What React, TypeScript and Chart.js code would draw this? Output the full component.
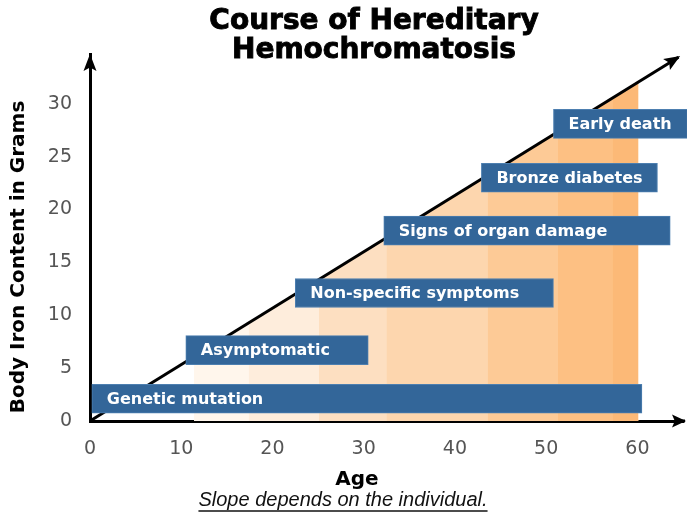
import { useEffect, useRef } from 'react';
import { Chart, registerables } from 'chart.js';

Chart.register(...registerables);

// ---- data ----
const titleLines = ['Course of Hereditary', 'Hemochromatosis'];
const xTitle = 'Age';
const yTitle = 'Body Iron Content in Grams';
const note = 'Slope depends on the individual.';

const xTicks = [0, 10, 20, 30, 40, 50, 60];
const yTicks = [0, 5, 10, 15, 20, 25, 30];

// diagonal course line (age, grams)
const lineX = [0, 64.5];
const lineY = [0, 34.4];

// shaded bands under the line: start age, height of line there
const bandStarts = [11.4, 17.4, 25.1, 32.5, 43.6, 51.3, 57.3];
const bandStartTops = [6.1, 9.3, 13.4, 17.3, 23.3, 27.4, 30.6];
const bandEnd = 60.1;
const bandEndTop = 32.1;
const bandColors = ['#FFF6EC', '#FEEDDC', '#FDDFC1', '#FDD6AE', '#FDCA96', '#FDC083', '#FCB977'];

// stage boxes
const stageLabels = [
  'Genetic mutation',
  'Asymptomatic',
  'Non-specific symptoms',
  'Signs of organ damage',
  'Bronze diabetes',
  'Early death',
];
const stageStart = [0.2, 10.5, 22.5, 32.2, 42.9, 50.8];
const stageEnd = [60.5, 30.5, 50.8, 63.6, 62.2, 65.5];
const stageLevel = [2.1, 6.7, 12.1, 18.0, 23.0, 28.1];

const FONT = '"DejaVu Sans", Verdana, sans-serif';

function arrowHead(ctx: CanvasRenderingContext2D, tx: number, ty: number, angle: number, len: number, half: number) {
  ctx.save();
  ctx.translate(tx, ty);
  ctx.rotate(angle);
  ctx.beginPath();
  ctx.moveTo(0, 0);
  ctx.lineTo(-len, -half);
  ctx.lineTo(-len * 0.8, 0);
  ctx.lineTo(-len, half);
  ctx.closePath();
  ctx.fillStyle = '#000';
  ctx.fill();
  ctx.restore();
}

const decor = {
  id: 'decor',
  afterDatasetsDraw(chart: any) {
    const ctx: CanvasRenderingContext2D = chart.ctx;
    const barIdx = chart.data.datasets.findIndex((d: any) => d.type === 'bar');
    const meta = chart.getDatasetMeta(barIdx);
    ctx.save();
    ctx.font = `bold 16px ${FONT}`;
    ctx.fillStyle = '#ffffff';
    ctx.textAlign = 'left';
    ctx.textBaseline = 'middle';
    meta.data.forEach((el: any, i: number) => {
      const left = Math.min(el.x, el.base);
      ctx.fillText(stageLabels[i], left + 15, el.y + 1);
    });
    ctx.restore();
  },
  afterDraw(chart: any) {
    const ctx: CanvasRenderingContext2D = chart.ctx;
    const { left, right, top, bottom } = chart.chartArea;
    // axis arrows
    arrowHead(ctx, left, top, -Math.PI / 2, 17, 6.5);
    ctx.save();
    ctx.strokeStyle = '#000';
    ctx.lineWidth = 3;
    ctx.beginPath();
    ctx.moveTo(right - 4, bottom);
    ctx.lineTo(right + 2, bottom);
    ctx.stroke();
    ctx.restore();
    arrowHead(ctx, right + 3, bottom, 0, 14, 6.5);
    // diagonal arrow
    const lineIdx = chart.data.datasets.findIndex((d: any) => d.label === 'course');
    const pts = chart.getDatasetMeta(lineIdx).data;
    const a = pts[pts.length - 2];
    const b = pts[pts.length - 1];
    const ang = Math.atan2(b.y - a.y, b.x - a.x);
    arrowHead(ctx, b.x + 2 * Math.cos(ang), b.y + 2 * Math.sin(ang), ang, 16, 6.5);

    // texts
    ctx.save();
    ctx.fillStyle = '#000';
    ctx.strokeStyle = '#000';
    ctx.textAlign = 'center';
    ctx.textBaseline = 'middle';
    ctx.font = `bold 28px ${FONT}`;
    ctx.lineWidth = 0.9;
    ctx.fillText(titleLines[0], 374, 22);
    ctx.strokeText(titleLines[0], 374, 22);
    ctx.fillText(titleLines[1], 374, 51);
    ctx.strokeText(titleLines[1], 374, 51);

    ctx.font = `bold 20px ${FONT}`;
    ctx.fillText(xTitle, 357, 480);
    ctx.save();
    ctx.translate(19, 257);
    ctx.rotate(-Math.PI / 2);
    ctx.fillText(yTitle, 0, 0);
    ctx.restore();

    ctx.fillStyle = '#111';
    ctx.font = `italic 20px "Liberation Sans", Arial, sans-serif`;
    ctx.textBaseline = 'alphabetic';
    ctx.fillText(note, 343, 506);
    const w = ctx.measureText(note).width;
    ctx.strokeStyle = '#111';
    ctx.lineWidth = 1.5;
    ctx.beginPath();
    ctx.moveTo(343 - w / 2, 511);
    ctx.lineTo(343 + w / 2, 511);
    ctx.stroke();
    ctx.restore();
  },
};

export default function App() {
  const ref = useRef<HTMLCanvasElement | null>(null);
  useEffect(() => {
    if (!ref.current) return;
    Chart.defaults.font.family = FONT;
    const bandSets = bandStarts.map((s, i) => ({
      type: 'line' as const,
      label: 'band' + i,
      data: [
        { x: s, y: bandStartTops[i] },
        { x: bandEnd, y: bandEndTop },
      ],
      fill: 'origin',
      backgroundColor: bandColors[i],
      borderWidth: 0,
      borderColor: 'rgba(0,0,0,0)',
      pointRadius: 0,
      order: 20 - i,
    }));
    const chart = new Chart(ref.current, {
      type: 'line',
      data: {
        datasets: [
          ...bandSets,
          {
            type: 'line',
            label: 'course',
            data: lineX.map((x, i) => ({ x, y: lineY[i] })),
            borderColor: '#000',
            borderWidth: 3,
            pointRadius: 0,
            fill: false,
            order: 5,
            clip: false,
          },
          {
            type: 'bar',
            label: 'stages',
            indexAxis: 'y',
            data: stageLabels.map((_, i) => ({ x: [stageStart[i], stageEnd[i]], y: stageLevel[i] })),
            backgroundColor: '#336699',
            borderColor: '#4d7fb0',
            borderWidth: 1,
            borderSkipped: false,
            barThickness: 29,
            order: 0,
            clip: false,
          },
        ] as any,
      },
      options: {
        animation: false,
        responsive: true,
        maintainAspectRatio: false,
        layout: { padding: { top: 54, right: 4, left: 0, bottom: 0 } },
        plugins: {
          legend: { display: false },
          tooltip: { enabled: false },
          title: { display: false },
        },
        scales: {
          x: {
            type: 'linear',
            position: 'bottom',
            offset: false,
            min: 0,
            max: 65,
            grid: { display: false, drawTicks: false, offset: false },
            border: { display: true, color: '#000', width: 3 },
            ticks: { font: { size: 19, family: FONT }, color: '#555', padding: 17 },
            afterBuildTicks: (s: any) => {
              s.ticks = xTicks.map((v) => ({ value: v }));
            },
            afterFit: (s: any) => {
              s.height = 93;
            },
          },
          y: {
            type: 'linear',
            position: 'left',
            offset: false,
            min: 0,
            max: 34.7,
            grid: { display: false, drawTicks: false, offset: false },
            border: { display: true, color: '#000', width: 3 },
            ticks: { font: { size: 19, family: FONT }, color: '#555', padding: 18 },
            afterBuildTicks: (s: any) => {
              s.ticks = yTicks.map((v) => ({ value: v }));
            },
            afterFit: (s: any) => {
              s.width = 90;
            },
          },
        },
      } as any,
      plugins: [decor],
    });
    return () => chart.destroy();
  }, []);
  return (
    <div style={{ position: 'fixed', left: 0, top: 0, width: 687, height: 514, background: '#fff' }}>
      <canvas ref={ref} />
    </div>
  );
}
